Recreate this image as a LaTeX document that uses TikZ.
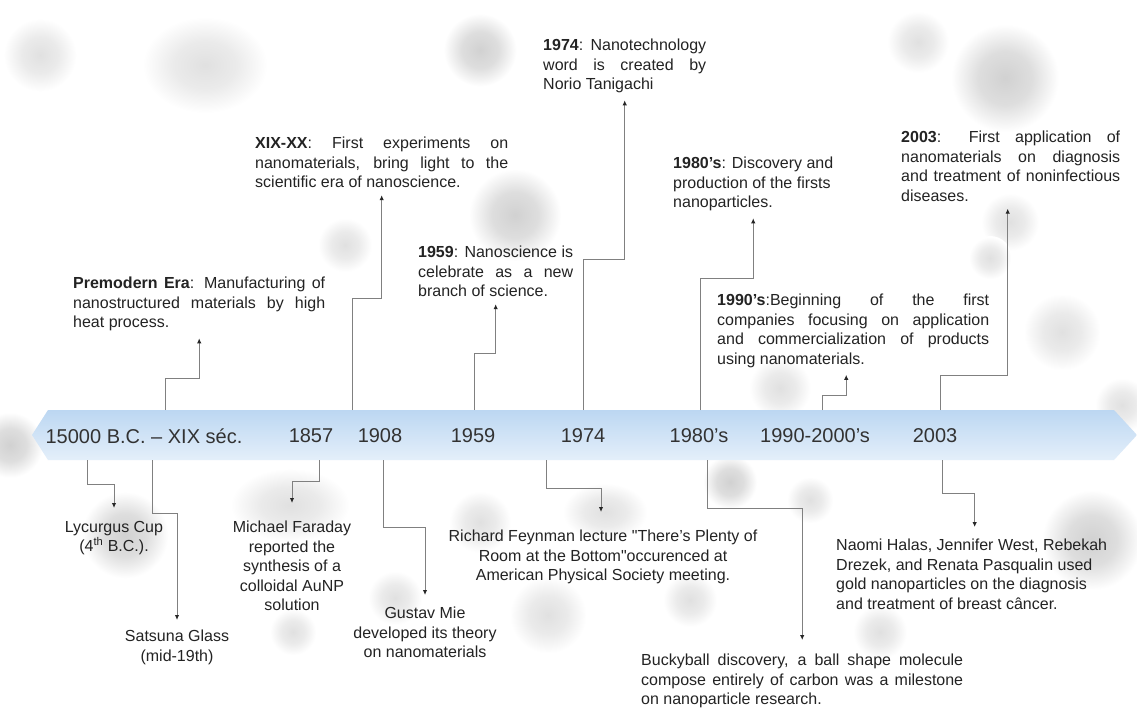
\documentclass[tikz,border=0pt]{standalone}
\usepackage{fontspec}
\setmainfont{Liberation Sans}
\usetikzlibrary{arrows.meta}
\usetikzlibrary{calc}
\tikzset{>={Latex[length=5pt,width=4.5pt]}}
\definecolor{bartop}{RGB}{188,215,242}
\definecolor{barbottom}{RGB}{228,239,250}
\definecolor{linkgray}{RGB}{128,128,128}
\definecolor{textgray}{RGB}{35,35,35}
\definecolor{yeargray}{RGB}{50,50,50}
\tikzstyle{link}=[draw=linkgray,line width=0.35mm,-{Latex[length=5pt,width=4.5pt,color=black!85]},shorten >=7pt]
\tikzstyle{event}=[inner sep=0pt,text=textgray,font=\fontsize{16}{19.5}\selectfont]
\tikzstyle{justtext}=[event,anchor=north west,align=justify]
\tikzstyle{lefttext}=[event,anchor=north west,align=left]
\tikzstyle{midtext}=[event,anchor=north,align=center]
\tikzstyle{yearlabel}=[text=yeargray,font=\fontsize{20}{24}\selectfont]
\pgfdeclareradialshading{blob}{\pgfpoint{0bp}{0bp}}{color(0bp)=(black!18); color(12bp)=(black!13); color(24bp)=(white); color(50bp)=(white)}
\pgfdeclareradialshading{paleblob}{\pgfpoint{0bp}{0bp}}{color(0bp)=(black!12); color(12bp)=(black!8); color(24bp)=(white); color(50bp)=(white)}

\begin{document}
\begin{tikzpicture}[x=1pt,y=-1pt]
    \useasboundingbox (0,0) rectangle (1137,708);
    \fill[white] (0,0) rectangle (1137,708);

    % blurred background
    \shade[shading=paleblob] (40,55) circle (38);
    \shade[shading=paleblob] (205,65) ellipse (65 and 50);
    \shade[shading=blob] (480,50) circle (38);
    \shade[shading=blob] (515,215) circle (48);
    \shade[shading=paleblob] (345,245) circle (28);
    \shade[shading=paleblob] (918,42) circle (32);
    \shade[shading=blob] (1005,78) circle (56);
    \shade[shading=paleblob] (1010,222) circle (30);
    \shade[shading=paleblob] (990,258) circle (22);
    \shade[shading=paleblob] (1062,332) circle (40);
    \shade[shading=paleblob] (780,388) circle (32);
    \shade[shading=blob] (10,445) circle (34);
    \shade[shading=paleblob] (1122,405) circle (28);
    \shade[shading=blob] (125,535) circle (45);
    \shade[shading=paleblob] (290,505) ellipse (62 and 38);
    \shade[shading=paleblob] (293,632) circle (24);
    \shade[shading=paleblob] (395,598) circle (28);
    \shade[shading=paleblob] (480,522) circle (32);
    \shade[shading=paleblob] (605,512) ellipse (44 and 30);
    \shade[shading=paleblob] (548,615) circle (40);
    \shade[shading=paleblob] (690,600) circle (28);
    \shade[shading=blob] (730,482) circle (28);
    \shade[shading=paleblob] (810,500) circle (24);
    \shade[shading=paleblob] (880,632) circle (28);
    \shade[shading=blob] (1092,540) circle (52);

    % timeline bar
    \shade[top color=bartop, bottom color=barbottom]
    (32,435) -- (48,410) -- (1114,410) -- (1137,435) -- (1114,460) -- (48,460) -- cycle;
    \node[yearlabel] (y0) at (144,436) {15000 B.C. – XIX séc.};
    \node[yearlabel] (y1857) at (311,436) {1857};
    \node[yearlabel] (y1908) at (380,436) {1908};
    \node[yearlabel] (y1959) at (473,436) {1959};
    \node[yearlabel] (y1974) at (583,436) {1974};
    \node[yearlabel] (y1980) at (699,436) {1980’s};
    \node[yearlabel] (y1990) at (815,436) {1990-2000’s};
    \node[yearlabel] (y2003) at (935,436) {2003};

    \coordinate (up1) at (165,410);
    \coordinate (up2) at (352,410);
    \coordinate (up3) at (474,410);
    \coordinate (up4) at (583,410);
    \coordinate (up5) at (700,410);
    \coordinate (up6) at (822,410);
    \coordinate (up7) at (940,410);
    \coordinate (dn1) at (87,460);
    \coordinate (dn2) at (152,460);
    \coordinate (dn3) at (319,460);
    \coordinate (dn4) at (383,460);
    \coordinate (dn5) at (546,460);
    \coordinate (dn6) at (707,460);
    \coordinate (dn7) at (942,460);

    % events above the bar
    \node[justtext,text width=252] (premod) at (73,277)
    {\textbf{Premodern Era}: Manufacturing of\linebreak
    nanostructured materials by high\linebreak heat process.};
    \node[justtext,text width=253] (xixxx) at (255,137)
    {\textbf{XIX-XX}: First experiments on\linebreak
    nanomaterials, bring light to the\linebreak scientific era of nanoscience.};
    \node[justtext,text width=155] (ev1959) at (418,246)
    {\textbf{1959}: Nanoscience is\linebreak celebrate as a new\linebreak branch of science.};
    \node[justtext,text width=163] (ev1974) at (543,39)
    {\textbf{1974}: Nanotechnology\linebreak word is created by\linebreak Norio Tanigachi};
    \node[lefttext] (ev1980) at (673,157)
    {\textbf{1980’s}: Discovery and\\production of the firsts\\nanoparticles.};
    \node[justtext,text width=272] (ev1990) at (717,294)
    {\textbf{1990’s}:Beginning of the first\linebreak
    companies focusing on application\linebreak
    and commercialization of products\linebreak using nanomaterials.};
    \node[justtext,text width=219] (ev2003) at (901,131)
    {\textbf{2003}: First application of\linebreak
    nanomaterials on diagnosis\linebreak
    and treatment of noninfectious\linebreak diseases.};

    % events below the bar
    \node[midtext] (lycur) at (114,521) {Lycurgus Cup\\(4\textsuperscript{th} B.C.).};
    \node[midtext] (satsu) at (177,630) {Satsuna Glass\\(mid-19th)};
    \node[midtext] (farad) at (292,521)
    {Michael Faraday\\reported the\\synthesis of a\\colloidal AuNP\\solution};
    \node[midtext] (gusta) at (425,607)
    {Gustav Mie\\developed its theory\\on nanomaterials};
    \node[midtext] (feyn) at (603,530)
    {Richard Feynman lecture \textquotedbl There’s Plenty of\\Room at the Bottom\textquotedbl occurenced at\\American Physical Society meeting.};
    \node[justtext,text width=322] (bucky) at (641,654)
    {Buckyball discovery, a ball shape molecule\linebreak
    compose entirely of carbon was a milestone\linebreak on nanoparticle research.};
    \node[lefttext] (naomi) at (836,539)
    {Naomi Halas, Jennifer West, Rebekah\\Drezek, and Renata Pasqualin used\\gold nanoparticles on the diagnosis\\and treatment of breast câncer.};

    % connectors
    \draw[link] (up1) -- ++(0,-32) -| (premod.south);
    \draw[link] (up2) -- ++(0,-112) -| (xixxx.south);
    \draw[link] (up3) -- ++(0,-57) -| (ev1959.south);
    \draw[link] (up4) -- ++(0,-151) -| (ev1974.south);
    \draw[link] (up5) -- ++(0,-132) -| (ev1980.south);
    \draw[link] (up6) -- ++(0,-15) -| ([xshift=-7pt]ev1990.south);
    \draw[link] (up7) -- ++(0,-35) -| ([xshift=-3pt]ev2003.south);

    \draw[link,shorten >=13pt] (dn1) -- ++(0,24) -| (lycur.north);
    \draw[link,shorten >=10pt] (dn2) -- ++(0,53) -| (satsu.north);
    \draw[link,shorten >=18pt] (dn3) -- ++(0,21) -| (farad.north);
    \draw[link,shorten >=12pt] (dn4) -- ++(0,67) -| (gusta.north);
    \draw[link,shorten >=18pt] (dn5) -- ++(0,28) -| ([xshift=-2pt]feyn.north);
    \draw[link,shorten >=14pt] (dn6) -- ++(0,48) -| (bucky.north);
    \draw[link,shorten >=12pt] (dn7) -- ++(0,33) -| ([xshift=3pt]naomi.north);
\end{tikzpicture}
\end{document}
